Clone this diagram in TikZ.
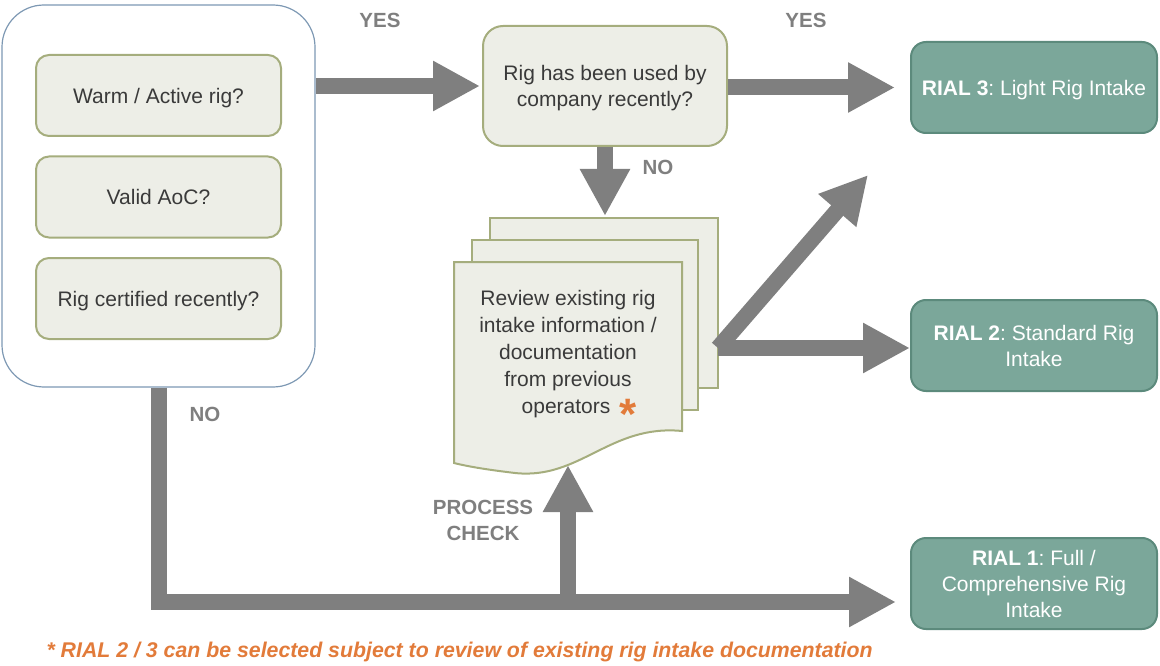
\documentclass[tikz,border=0pt]{standalone}
\usepackage{fontspec}
\setmainfont{Liberation Sans}
\usetikzlibrary{arrows.meta}
\definecolor{boxfill}{HTML}{EDEEE7}
\definecolor{boxline}{HTML}{A5AD7D}
\definecolor{rialfill}{HTML}{7BA79A}
\definecolor{rialline}{HTML}{5C8A7C}
\definecolor{flow}{HTML}{7F7F7F}
\definecolor{txt}{HTML}{3A3A3A}
\definecolor{note}{HTML}{E27B3A}
\definecolor{frame}{HTML}{7D98B3}
\frenchspacing
\begin{document}
\begin{tikzpicture}[x=1pt,y=-1pt,
  every node/.style={font=\fontsize{21}{26}\selectfont},
  check/.style={draw=boxline, fill=boxfill, line width=2pt, rounded corners=13pt,
    minimum width=245pt, minimum height=81pt, inner sep=0pt, text=txt, align=center,
    text depth=0pt},
  rial/.style={draw=rialline, fill=rialfill, line width=2pt, rounded corners=15pt,
    minimum width=246pt, minimum height=91pt, inner sep=0pt, text=white, align=center,
    text depth=0pt},
  page/.style={draw=boxline, fill=boxfill, line width=2pt},
  flowarrow/.style={draw=flow, line width=16pt, -{Triangle[length=47pt,width=47pt]}},
  lbl/.style={text=flow, font=\bfseries\fontsize{20.5}{26}\selectfont, align=center}]
\useasboundingbox (0,0) rectangle (1160,666);

% grouped entry questions
\node[draw=frame, line width=1.2pt, rounded corners=42pt, minimum width=313pt,
  minimum height=382pt, inner sep=0pt] (outer) at (158.5,196) {};
\node[check] (warm) at (158.5,95.5) {Warm / Active rig?};
\node[check] (aoc) at (158.5,197) {Valid AoC?};
\node[check] (cert) at (158.5,298.5) {Rig certified recently?};

% second question
\node[check, minimum width=244pt, minimum height=120pt, rounded corners=20pt] (used)
  at (605,86) {Rig has been used by\\company recently?};

% outcomes
\node[rial] (rial3) at (1034,87.5) {\textbf{RIAL 3}: Light Rig Intake};
\node[rial] (rial2) at (1034,345.5) {\textbf{RIAL 2}: Standard Rig\\Intake};
\node[rial] (rial1) at (1034,583.5) {\textbf{RIAL 1}: Full /\\Comprehensive Rig\\Intake};

% stacked document pages
\filldraw[page] (490,218) rectangle (718,388);
\filldraw[page] (472,240) rectangle (698,410);
\filldraw[page] (454,262) -- (682,262) -- (682,431)
  .. controls (610,424) and (580,480) .. (515,473)
  .. controls (490,470) and (470,467) .. (454,463) -- cycle;
\node[text=txt, align=center, font=\fontsize{21}{27}\selectfont, text depth=0pt] (doc) at (568,352)
  {Review existing rig\\intake information /\\documentation\\from previous\\\hspace*{22pt}operators\hspace{3pt}
   \raisebox{-16pt}{\textcolor{note}{\bfseries\fontsize{44}{44}\selectfont *}}};

% connector end points
\coordinate (docTop) at (605,216);
\coordinate (split) at (718,348);
\coordinate (upTip) at (868,175);
\coordinate (bend) at (158.5,602);
\coordinate (pc) at (568,602);
\coordinate (docBottom) at (568,465);

% connectors
\draw[flowarrow, shorten >=2pt] (outer.east |- used.west) -- (used.west);
\draw[flowarrow, shorten >=15pt] (used.east |- rial3.west) -- (rial3.west);
\draw[flowarrow] (used.south) -- (docTop);
\draw[flowarrow] (split) -- (upTip);
\draw[flowarrow] (split) -- (split -| rial2.west);
\draw[flowarrow, shorten >=14pt] (outer.south) |- (bend -| rial1.west);
\draw[flowarrow] (pc) -- (docBottom);

% labels
\node[lbl] (yes1) at (380,20) {YES};
\node[lbl] (yes2) at (806,20) {YES};
\node[lbl] (no1) at (658,167) {NO};
\node[lbl] (no2) at (205,414) {NO};
\node[lbl] (pcheck) at (483,520) {PROCESS\\CHECK};

\node[anchor=west, text=note, font=\bfseries\itshape\fontsize{21.3}{24}\selectfont]
  (footnote) at (43,652) {* RIAL 2 / 3 can be selected subject to review of existing rig intake documentation};
\end{tikzpicture}
\end{document}
